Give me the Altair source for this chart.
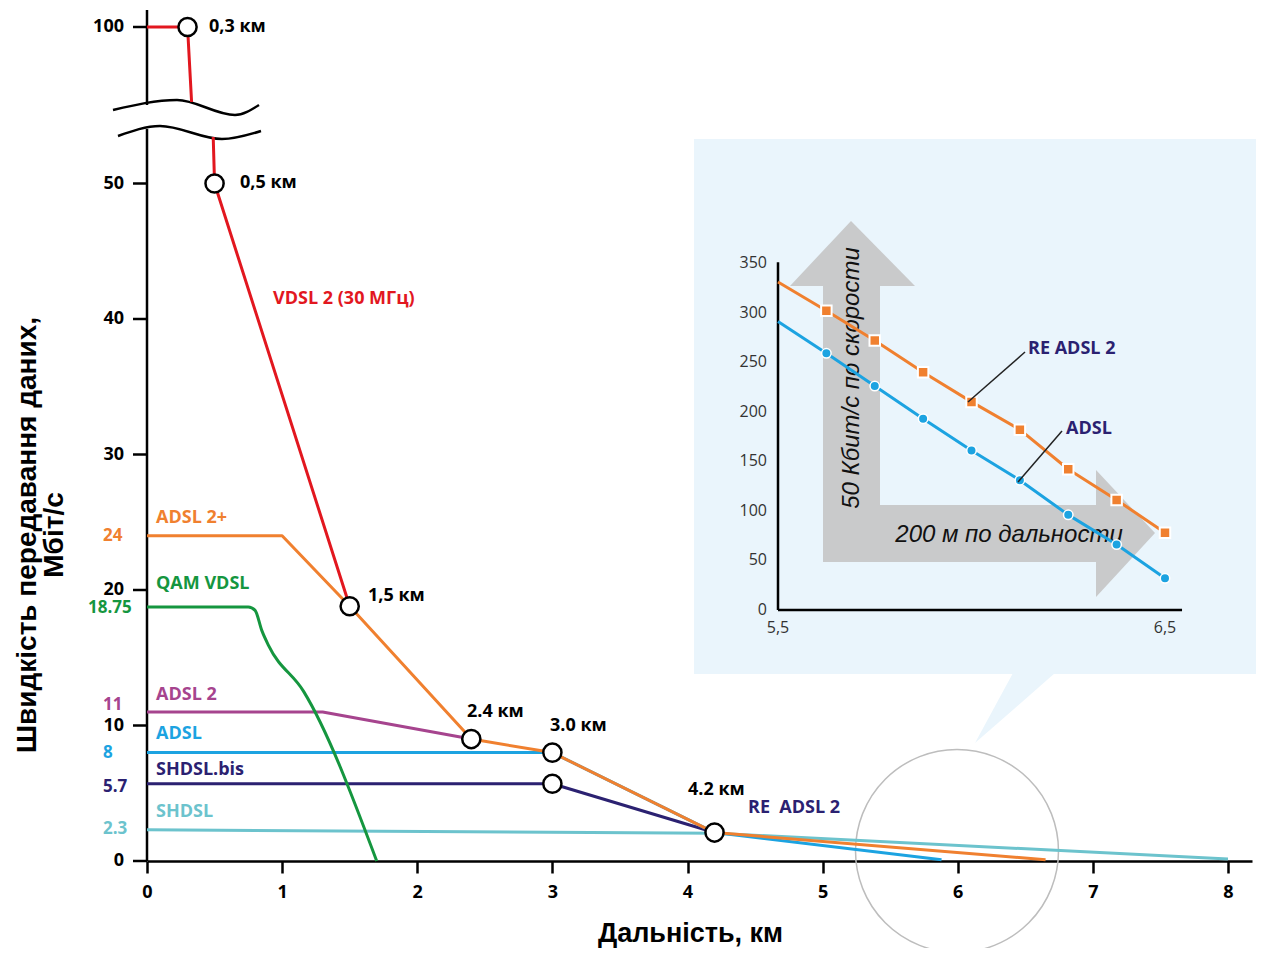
import altair as alt
import pandas as pd

# ---------------- data ----------------
# main chart: distance (km) / speed (Mbit/s)
vdsl2_km = [0, 0.3, 0.5, 1.5]
vdsl2_mbps = [100, 100, 50, 18.8]
adsl2plus_km = [0, 1.0, 1.5, 2.4, 3.0, 4.2, 6.65]
adsl2plus_mbps = [24, 24, 18.8, 9.0, 8.0, 2.1, 0.1]
qam_vdsl_km = [0, 0.75, 0.8, 0.85, 0.9, 1.16, 1.7]
qam_vdsl_mbps = [18.75, 18.75, 18.5, 17.0, 15.9, 12.5, 0]
adsl2_km = [0, 1.3, 2.4]
adsl2_mbps = [11, 11, 9.0]
adsl_km = [0, 3.0, 4.2, 5.88]
adsl_mbps = [8, 8, 2.1, 0.1]
shdslbis_km = [0, 3.0, 4.2]
shdslbis_mbps = [5.7, 5.7, 2.1]
shdsl_km = [0, 4.2, 8.0]
shdsl_mbps = [2.3, 2.05, 0.15]

marker_km = [0.3, 0.5, 1.5, 2.4, 3.0, 3.0, 4.2]
marker_mbps = [100, 50, 18.8, 9.0, 8.0, 5.7, 2.1]

x_ticks = [0, 1, 2, 3, 4, 5, 6, 7, 8]
y_ticks = [0, 10, 20, 30, 40, 50, 100]
level_values = [24, 18.75, 11, 8, 5.7, 2.3]
level_labels = ["24", "18.75", "11", "8", "5.7", "2.3"]

# inset: distance (km) / speed (kbit/s)
inset_km = [5.5, 5.625, 5.75, 5.875, 6.0, 6.125, 6.25, 6.375, 6.5]
inset_re_adsl2 = [331, 302, 272, 240, 210, 182, 142, 111, 78]
inset_adsl = [291, 259, 226, 193, 161, 131, 96, 66, 32]
inset_y_ticks = [0, 50, 100, 150, 200, 250, 300, 350]
inset_x_ticks = [5.5, 6.5]
inset_x_labels = ["5,5", "6,5"]

# ---------------- colours ----------------
RED, ORANGE, GREEN = "#E2171F", "#F0802F", "#15963F"
PURPLE, BLUE, NAVY, TEAL = "#A6448E", "#1CA3E1", "#2B2171", "#6CC3CD"
BG, GRAY = "#EAF5FC", "#C9CACB"
FONT = "Open Sans"

# ---------------- geometry ----------------
W, H = 1105, 851
KX, KY = 135.125, 13.55
XMAX, YMAX = W / KX, H / KY


def px(p):
    return (p - 147) / KX


def py(p):
    return (861 - p) / KY


def disp(v):  # broken axis: part above 50 is compressed
    return v if v <= 50 else 50 + (v - 50) * 0.231


def ix(v):
    return px(778 + (v - 5.5) * 387)


def iy(v):
    return py(610 - v * 0.991)


XS = alt.Scale(domain=[0, XMAX], nice=False, zero=False)
YS = alt.Scale(domain=[0, YMAX], nice=False, zero=False)
XAXIS = alt.Axis(values=x_ticks, format="d", title="Дальність, км", grid=False,
                 domainColor="black", domainWidth=2.5, tickColor="black", tickWidth=2.5,
                 tickSize=12, labelFont=FONT, labelFontWeight="bold", labelFontSize=18,
                 labelColor="black", labelPadding=10, labelFlush=False,
                 titleFont="Liberation Sans", titleFontWeight="bold", titleFontSize=27,
                 titleColor="black", titleX=543, titleY=80, titleBaseline="alphabetic")


def X(f="x"):
    return alt.X(f, type="quantitative", scale=XS, axis=XAXIS)


def Y(f="y"):
    return alt.Y(f, type="quantitative", scale=YS, axis=None)


def D(**cols):
    return pd.DataFrame(cols)


layers = []


def rect(x1, x2, y1, y2, color):
    layers.append(alt.Chart(D(x=[x1], x2=[x2], y=[y1], y2=[y2])).mark_rect(color=color)
                  .encode(x=X(), x2=alt.X2("x2"), y=Y(), y2=alt.Y2("y2")))


def rule(df, color="black", width=2.5):
    enc = dict(x=X(), y=Y())
    if "x2" in df:
        enc["x2"] = alt.X2("x2")
    if "y2" in df:
        enc["y2"] = alt.Y2("y2")
    layers.append(alt.Chart(df).mark_rule(color=color, strokeWidth=width).encode(**enc))


def text(df, **kw):
    base = dict(font=FONT, fontWeight="bold", fontSize=18, baseline="middle", align="left")
    base.update(kw)
    enc = dict(x=X(), y=Y(), text="t:N")
    if "c" in df:
        enc["color"] = alt.Color("c:N", scale=None)
    layers.append(alt.Chart(df).mark_text(**base).encode(**enc))


def line(xs, ys, color, width=3):
    layers.append(alt.Chart(D(x=xs, y=ys)).mark_line(color=color, strokeWidth=width,
                                                     strokeJoin="round")
                  .encode(x=X(), y=Y()))


# ---------------- inset box with pointer ----------------
rect(px(694), px(1264), py(139), py(674), BG)
layers.append(alt.Chart(D(y=[py(673), py(743)], x=[px(1013), px(975)], x2=[px(1055), px(975)]))
              .mark_area(color=BG, orient="horizontal")
              .encode(y=Y(), x=X(), x2=alt.X2("x2")))

# magnifier circle
layers.append(alt.Chart(D(x=[px(957)], y=[py(851)]))
              .mark_point(shape="circle", size=41200, filled=False, color="#BDBDBD",
                          strokeWidth=1.5, opacity=1)
              .encode(x=X(), y=Y()))

# grey L-arrow
rect(px(823), px(880), py(285), py(562), GRAY)
rect(px(823), px(1097), py(505), py(562), GRAY)
layers.append(alt.Chart(D(y=[py(286), py(221)], x=[px(790), px(851)], x2=[px(915), px(851)]))
              .mark_area(color=GRAY, orient="horizontal")
              .encode(y=Y(), x=X(), x2=alt.X2("x2")))
layers.append(alt.Chart(D(x=[px(1096), px(1155)], y=[py(470), py(533)], y2=[py(597), py(533)]))
              .mark_area(color=GRAY, orient="vertical")
              .encode(x=X(), y=Y(), y2=alt.Y2("y2")))
text(D(x=[px(852)], y=[py(378)], t=["50 Кбит/с по скорости"]), font="Liberation Sans",
     fontWeight="normal", fontStyle="italic", fontSize=24, align="center", angle=270, color="#111")
text(D(x=[px(1009)], y=[py(535)], t=["200 м по дальности"]), font="Liberation Sans",
     fontWeight="normal", fontStyle="italic", fontSize=24, align="center", color="#111")

# inset axes
rule(D(x=[ix(5.5)], y=[iy(0)], y2=[iy(351)]))
rule(D(x=[ix(5.5)], x2=[ix(6.544)], y=[iy(0)]))
text(D(x=[px(767)] * len(inset_y_ticks), y=[iy(v) for v in inset_y_ticks],
       t=[str(v) for v in inset_y_ticks]), align="right", fontWeight="normal", fontSize=16,
     color="#333")
text(D(x=[ix(v) for v in inset_x_ticks], y=[py(628)] * 2, t=inset_x_labels), align="center",
     fontWeight="normal", fontSize=16, color="#333")

# inset series
line([ix(v) for v in inset_km], [iy(v) for v in inset_re_adsl2], ORANGE, 3)
line([ix(v) for v in inset_km], [iy(v) for v in inset_adsl], BLUE, 3)
layers.append(alt.Chart(D(x=[ix(v) for v in inset_km[1:]], y=[iy(v) for v in inset_re_adsl2[1:]]))
              .mark_point(shape="square", size=110, filled=True, color=ORANGE, stroke="white",
                          strokeWidth=2, opacity=1)
              .encode(x=X(), y=Y()))
layers.append(alt.Chart(D(x=[ix(v) for v in inset_km[1:]], y=[iy(v) for v in inset_adsl[1:]]))
              .mark_point(shape="circle", size=90, filled=True, color=BLUE, stroke="white",
                          strokeWidth=1.5, opacity=1)
              .encode(x=X(), y=Y()))
rule(D(x=[px(1025)], y=[py(352)], x2=[px(968)], y2=[py(402)]), color="#222", width=1.5)
rule(D(x=[px(1062)], y=[py(431)], x2=[px(1018)], y2=[py(482)]), color="#222", width=1.5)
text(D(x=[px(1028), px(1066)], y=[py(349), py(429)], t=["RE ADSL 2", "ADSL"]), color=NAVY)

# ---------------- main chart y axis (broken) ----------------
rule(D(x=[0], y=[0], y2=[py(129)]))
rule(D(x=[0], y=[py(105)], y2=[YMAX]))
rule(D(x=[px(133)] * len(y_ticks), x2=[0] * len(y_ticks), y=[disp(v) for v in y_ticks]))
text(D(x=[px(124)] * len(y_ticks), y=[disp(v) for v in y_ticks], t=[str(v) for v in y_ticks]),
     align="right", color="black")
level_colors = [ORANGE, GREEN, PURPLE, BLUE, NAVY, TEAL]
level_label_y = [py(536), py(608), py(705), py(753), py(787), py(829)]
text(D(x=[px(88) if t == "18.75" else px(103) for t in level_labels],
       y=level_label_y, t=level_labels, c=level_colors), fontSize=17)

# break waves
for pts in ([(113, 110), (177, 100), (235, 115), (259, 105)],
            [(118, 136), (160, 126), (222, 139), (261, 131)]):
    layers.append(alt.Chart(D(x=[px(a) for a, b in pts], y=[py(b) for a, b in pts]))
                  .mark_line(color="black", strokeWidth=2.5, interpolate="monotone")
                  .encode(x=X(), y=Y()))

# ---------------- main series ----------------
line(shdsl_km, shdsl_mbps, TEAL)
line(shdslbis_km, shdslbis_mbps, NAVY)
line(adsl_km, adsl_mbps, BLUE)
line(adsl2_km, adsl2_mbps, PURPLE)
layers.append(alt.Chart(D(x=qam_vdsl_km, y=qam_vdsl_mbps))
              .mark_line(color=GREEN, strokeWidth=3, interpolate="monotone")
              .encode(x=X(), y=Y()))
line(adsl2plus_km, adsl2plus_mbps, ORANGE)
# VDSL2 drawn across the axis break
line(vdsl2_km[:2] + [0.33], [disp(v) for v in vdsl2_mbps[:2]] + [py(102)], RED)
line([0.49] + vdsl2_km[2:], [py(137)] + [disp(v) for v in vdsl2_mbps[2:]], RED)

layers.append(alt.Chart(D(x=marker_km, y=[disp(v) for v in marker_mbps]))
              .mark_point(shape="circle", size=330, filled=True, fill="white", stroke="black",
                          strokeWidth=2.5, opacity=1)
              .encode(x=X(), y=Y()))

# distance labels at the markers
text(D(x=[px(209), px(240), px(368), px(467), px(550), px(688)],
       y=[py(27), py(183), py(596), py(712), py(726), py(790)],
       t=["0,3 км", "0,5 км", "1,5 км", "2.4 км", "3.0 км", "4.2 км"]), color="black")
text(D(x=[px(748)], y=[py(808)], t=["RE\u00a0 ADSL 2"]), color=NAVY)

# series names
text(D(x=[px(273)] + [px(156)] * 6,
       y=[py(299), py(518), py(584), py(695), py(734), py(770), py(812)],
       t=["VDSL 2 (30 МГц)", "ADSL 2+", "QAM VDSL", "ADSL 2", "ADSL", "SHDSL.bis", "SHDSL"],
       c=[RED, ORANGE, GREEN, PURPLE, BLUE, NAVY, TEAL]))

# y title
text(D(x=[px(28), px(55)], y=[py(535)] * 2, t=["Швидкість передавання даних,", "Мбіт/с"]),
     font="Liberation Sans", fontSize=28, align="center", angle=270, color="black")

chart = (alt.layer(*layers)
         .properties(width=W, height=H,
                     padding={"left": 139, "top": 2, "right": 4, "bottom": 87},
                     autosize=alt.AutoSizeParams(type="none"))
         .configure_view(stroke=None))

chart.save("out.html", embed_options={"renderer": "svg", "actions": False})
